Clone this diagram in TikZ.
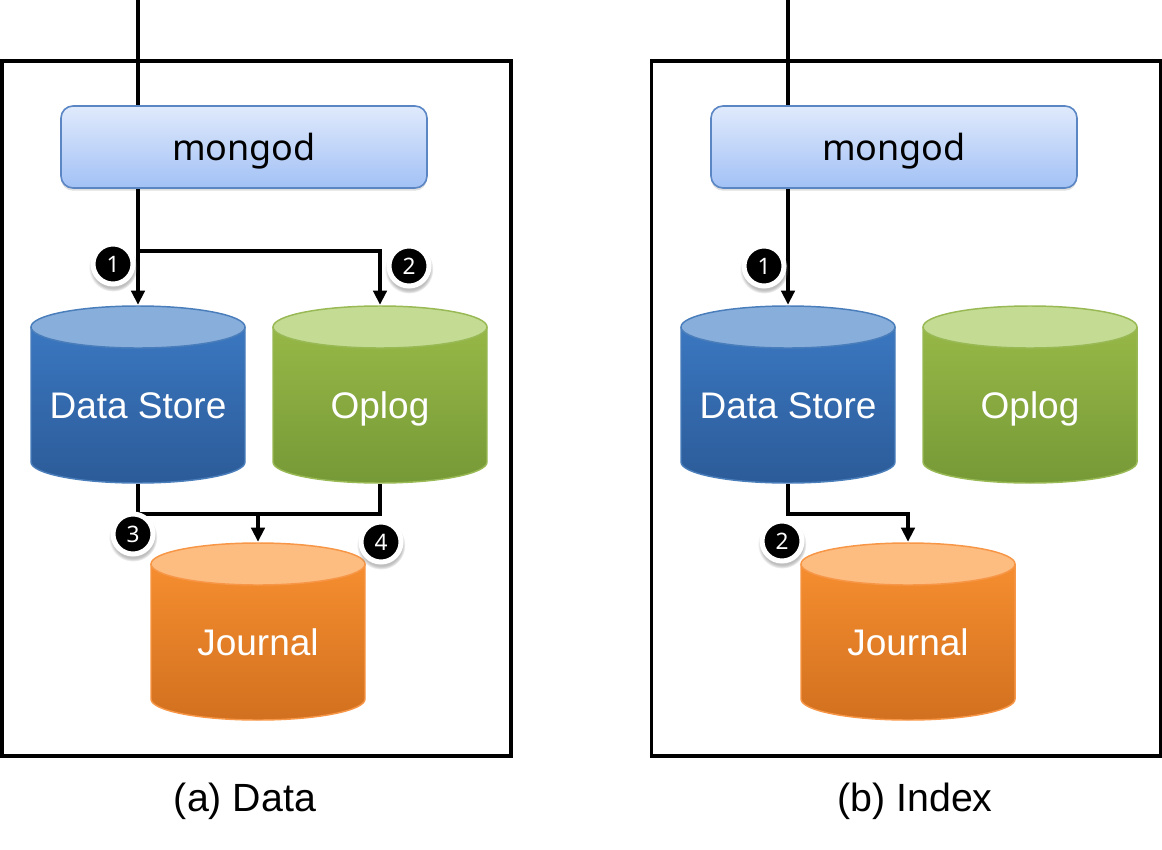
\documentclass[tikz,border=0pt]{standalone}
\usepackage{fontspec}
\setmainfont{Liberation Sans}
\newfontfamily\mongodfont{Noto Sans}
\usepackage{tikz}
\usetikzlibrary{arrows.meta,positioning,shadows}

\definecolor{dsTop}{HTML}{3C7BC6}
\definecolor{dsBot}{HTML}{2C5B98}
\definecolor{dsCap}{HTML}{88AEDC}
\definecolor{dsLine}{HTML}{4A7EBB}
\definecolor{opTop}{HTML}{9BBC49}
\definecolor{opBot}{HTML}{769937}
\definecolor{opCap}{HTML}{C4DB94}
\definecolor{opLine}{HTML}{98B954}
\definecolor{jnTop}{HTML}{FB9232}
\definecolor{jnBot}{HTML}{D1701F}
\definecolor{jnCap}{HTML}{FDBC80}
\definecolor{jnLine}{HTML}{F79646}
\definecolor{mgTop}{HTML}{E0EAFC}
\definecolor{mgBot}{HTML}{A2C1F5}
\definecolor{mgLine}{HTML}{5A86C4}

\begin{document}
\begin{tikzpicture}[
        x=0.75pt, y=0.75pt,
        panel/.style={draw, line width=2.6pt, minimum width=509*0.75pt, minimum height=695*0.75pt, inner sep=0pt},
        mongod/.style={draw=mgLine, line width=1.2pt, rounded corners=9pt, top color=mgTop, bottom color=mgBot,
            minimum width=366*0.75pt, minimum height=82*0.75pt, font=\mongodfont\fontsize{27}{30}\selectfont,
            text depth=0pt,
            drop shadow={shadow xshift=0pt, shadow yshift=-2pt, opacity=0.25}},
        store/.style n args={4}{rectangle, inner sep=0pt, minimum width=216*0.75pt, minimum height=179*0.75pt,
            text=white, font=\fontsize{27.75}{30}\selectfont, text height=36pt, text depth=0pt,
            path picture={
                \shade[top color=#1, bottom color=#2]
                    ([shift={(-80.25pt,-16.5pt)}]path picture bounding box.north)
                    -- ([shift={(-80.25pt,16.5pt)}]path picture bounding box.south)
                    arc[start angle=180, end angle=360, x radius=80.25pt, y radius=15.75pt]
                    -- ([shift={(80.25pt,-16.5pt)}]path picture bounding box.north) -- cycle;
                \draw[#4, line width=1.1pt]
                    ([shift={(-80.25pt,-16.5pt)}]path picture bounding box.north)
                    -- ([shift={(-80.25pt,16.5pt)}]path picture bounding box.south)
                    arc[start angle=180, end angle=360, x radius=80.25pt, y radius=15.75pt]
                    -- ([shift={(80.25pt,-16.5pt)}]path picture bounding box.north);
                \filldraw[fill=#3, draw=#4, line width=1.1pt]
                    ([yshift=-16.5pt]path picture bounding box.north) ellipse[x radius=80.25pt, y radius=15.75pt];
            }},
        badge/.style={circle, fill=black, draw=white, line width=3.75pt, minimum size=40*0.75pt, inner sep=0pt,
            text=white, font=\mongodfont\fontsize{17}{17}\selectfont,
            circular drop shadow={shadow xshift=0pt, shadow yshift=-2pt, opacity=0.5, shadow scale=1.22}},
        caption/.style={font=\fontsize{29.5}{32}\selectfont, anchor=base},
        wire/.style={draw=black, line width=2.4pt},
        flow/.style={wire, -{Triangle[length=10.5pt, width=10pt]}},
    ]
    \useasboundingbox (0,0) rectangle (1162,-849);

    % (a) Data
    \node[panel] (panelA) at (256.5,-408.5) {};
    \coordinate (inA) at (138,0);
    \node[mongod] (mongodA) at (244,-147) {mongod};
    \node[store={dsTop}{dsBot}{dsCap}{dsLine}] (storeA) at (138,-394.5) {Data Store};
    \node[store={opTop}{opBot}{opCap}{opLine}] (oplogA) at (380,-394.5) {Oplog};
    \node[store={jnTop}{jnBot}{jnCap}{jnLine}] (journalA) at (258,-631.5) {Journal};
    \coordinate (forkA) at (138,-251);
    \coordinate (joinA) at (258,-514);

    \draw[wire] (inA) -- (inA |- mongodA.north);
    \draw[flow] (mongodA.south -| storeA.north) -- (storeA.north);
    \draw[flow] (forkA) -| (oplogA.north);
    \draw[wire] (storeA.south) |- (joinA) -| (oplogA.south);
    \draw[flow] (joinA) -- (journalA.north);

    \node[badge] (b1A) at (113,-264) {1};
    \node[badge] (b2A) at (409,-266) {2};
    \node[badge] (b3A) at (133,-534) {3};
    \node[badge] (b4A) at (381,-542) {4};

    \node[caption] (capA) at (245,-811) {(a) Data};

    % (b) Index
    \node[panel] (panelB) at (906,-408.5) {};
    \coordinate (inB) at (788,0);
    \node[mongod] (mongodB) at (894,-147) {mongod};
    \node[store={dsTop}{dsBot}{dsCap}{dsLine}] (storeB) at (788,-394.5) {Data Store};
    \node[store={opTop}{opBot}{opCap}{opLine}] (oplogB) at (1030,-394.5) {Oplog};
    \node[store={jnTop}{jnBot}{jnCap}{jnLine}] (journalB) at (908,-631.5) {Journal};
    \coordinate (joinB) at (908,-514);

    \draw[wire] (inB) -- (inB |- mongodB.north);
    \draw[flow] (mongodB.south -| storeB.north) -- (storeB.north);
    \draw[flow] (storeB.south) |- (joinB) -- (journalB.north);

    \node[badge] (b1B) at (764,-266) {1};
    \node[badge] (b2B) at (782,-541) {2};

    \node[caption] (capB) at (915,-811) {(b) Index};
\end{tikzpicture}
\end{document}
